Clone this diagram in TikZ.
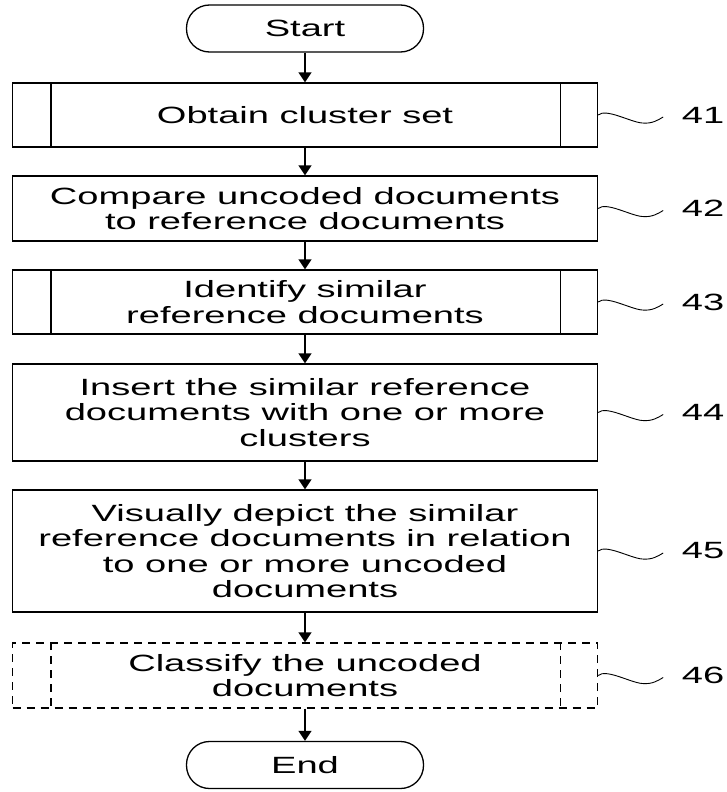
\documentclass[tikz,border=0pt]{standalone}
\usepackage{fontspec}
\setmainfont{Liberation Sans}[FakeStretch=1.62]
\usetikzlibrary{arrows.meta,calc}
\newcommand\refsquig[2]{%
  \node[lab] (l#2) at ($(#1.east)+(105,0)$) {#2};
  \draw[squig] (#1.east) .. controls +(8,-7) and +(-12,-1) .. ($(#1.east)+(44,8)$)
    .. controls +(10,1) and +(-5,3) .. ($(#1.east)+(65,2)$);
}
\begin{document}
\begin{tikzpicture}[x=1pt,y=-1pt,
  every node/.style={font=\fontsize{23.5}{25.5}\selectfont, inner sep=0pt},
  procbox/.style={draw, line width=1.3pt, minimum width=585pt, align=center},
  termbox/.style={draw, line width=1.3pt, rounded corners=23pt, minimum width=237pt, minimum height=47pt},
  flow/.style={line width=1.3pt, -{Triangle[length=10pt,width=13pt]}},
  squig/.style={line width=0.9pt},
  dash46/.style={dash pattern=on 8pt off 6pt},
  lab/.style={}]
\useasboundingbox (0,0) rectangle (726,792);

\node[termbox] (start) at (305,28.5) {Start};
\node[procbox, minimum height=64pt] (b41) at (305,115) {Obtain cluster set};
\node[procbox, minimum height=65pt] (b42) at (305,208.5) {Compare uncoded documents\\to reference documents};
\node[procbox, minimum height=64pt] (b43) at (305,302) {Identify similar\\reference documents};
\node[procbox, minimum height=97pt] (b44) at (305,412.5) {Insert the similar reference\\documents with one or more\\clusters};
\node[procbox, minimum height=122pt] (b45) at (305,551) {Visually depict the similar\\reference documents in relation\\to one or more uncoded\\documents};
\node[procbox, dash46, minimum height=65pt] (b46) at (305,675.5) {Classify the uncoded\\documents};
\node[termbox] (end) at (305,765) {End};

% inner bars
\foreach \b in {b41,b43}{
  \draw[line width=1.3pt] ([xshift=39pt]\b.north west) -- ([xshift=39pt]\b.south west);
  \draw[line width=1.3pt] ([xshift=-38pt]\b.north east) -- ([xshift=-38pt]\b.south east);
}
\draw[line width=1.3pt, dash46] ([xshift=39pt]b46.north west) -- ([xshift=39pt]b46.south west);
\draw[line width=1.3pt, dash46] ([xshift=-38pt]b46.north east) -- ([xshift=-38pt]b46.south east);

% flow
\draw[flow] (start) -- (b41);
\draw[flow] (b41) -- (b42);
\draw[flow] (b42) -- (b43);
\draw[flow] (b43) -- (b44);
\draw[flow] (b44) -- (b45);
\draw[flow] (b45) -- (b46);
\draw[flow] (b46) -- (end);

% reference numerals
\refsquig{b41}{41}
\refsquig{b42}{42}
\refsquig{b43}{43}
\refsquig{b44}{44}
\refsquig{b45}{45}
\refsquig{b46}{46}
\end{tikzpicture}
\end{document}
